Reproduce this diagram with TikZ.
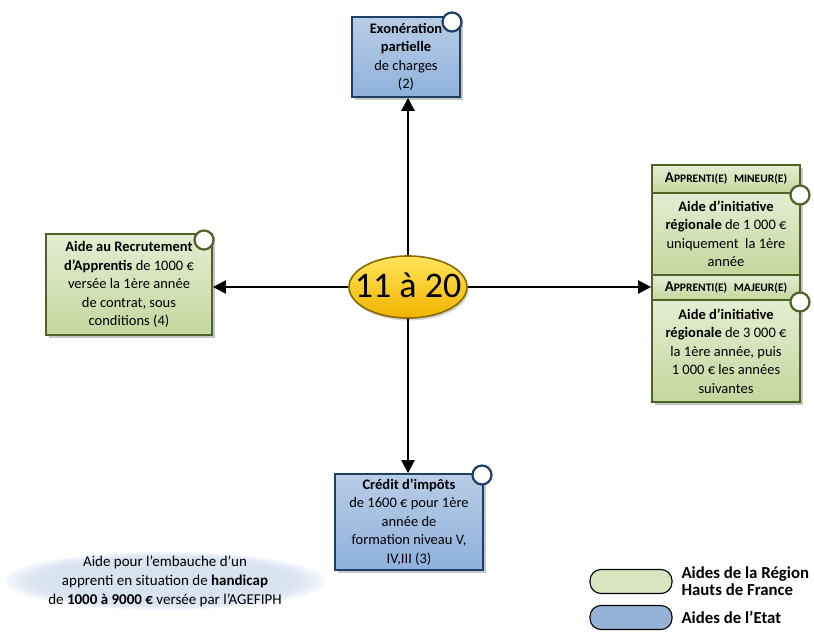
\documentclass[tikz,border=0pt]{standalone}
\usepackage{fontspec}
\setmainfont{Carlito}
\usetikzlibrary{shapes.geometric,shadows,arrows.meta}
\definecolor{gfillT}{HTML}{E4EDD2}
\definecolor{gfillB}{HTML}{C4D79E}
\definecolor{gline}{HTML}{4F6228}
\definecolor{bfillT}{HTML}{B9CDE6}
\definecolor{bfillB}{HTML}{8EB1DC}
\definecolor{bline}{HTML}{1F3F66}
\definecolor{yT}{HTML}{FFE45A}
\definecolor{yB}{HTML}{F2B400}
\definecolor{yline}{HTML}{8A6A00}
\definecolor{haze}{HTML}{D3E0EF}
\definecolor{legG}{HTML}{D7E4BD}
\definecolor{legB}{HTML}{95B3D7}
\newcommand{\fsc}[2]{{\fontsize{15}{15}\selectfont #1}{\fontsize{11.5}{11.5}\selectfont #2}}
\tikzset{
  boxbase/.style={draw, line width=1.8pt, align=center, inner sep=2pt,
    font=\fontsize{14.5}{18.5}\selectfont,
    drop shadow={shadow xshift=2.5pt, shadow yshift=-3pt, opacity=0.45}},
  greenbox/.style={boxbase, draw=gline, top color=gfillT, bottom color=gfillB},
  bluebox/.style={boxbase, draw=bline, top color=bfillT, bottom color=bfillB},
  knob/.style={circle, draw, fill=white, line width=2.2pt, minimum size=19pt, inner sep=0pt},
  arr/.style={line width=2.4pt, -{Triangle[length=13pt,width=13pt]}},
  legbox/.style={draw=black, line width=1.1pt, rounded corners=11pt, minimum width=82pt, minimum height=24pt},
  legtext/.style={anchor=west, align=left, font=\fontsize{16.8}{16.5}\selectfont\bfseries}
}
\begin{document}
\begin{tikzpicture}[x=1pt,y=-1pt]
\useasboundingbox (0,0) rectangle (814,639);
% haze ellipse
\foreach \s in {1.0,0.97,0.94,0.91,0.88,0.85,0.82,0.79} {
  \fill[haze, opacity=0.22] (165,581) ellipse ({160*\s} and {29*\s});
}
\node[align=center, font=\fontsize{15}{19}\selectfont] (hand) at (165,581)
  {Aide pour l’embauche d’un\\apprenti en situation de \textbf{handicap}\\de \textbf{1000 à 9000 €} versée par l’AGEFIPH};
% boxes
\node[bluebox, minimum width=108pt, minimum height=80pt] (top) at (406,57)
  {\textbf{Exonération}\\\textbf{partielle}\\de charges\\(2)};
\node[greenbox, minimum width=166pt, minimum height=101pt] (left) at (129,284.5)
  {\textbf{Aide au Recrutement}\\\textbf{d’Apprentis} de 1000 €\\versée la 1ère année\\de contrat, sous\\conditions (4)};
\node[greenbox, minimum width=148pt, minimum height=28pt, inner sep=0pt] (h1) at (726,179)
  {\textbf{\fsc{A}{PPRENTI(E)}\ \ \fsc{}{MINEUR(E)}}};
\node[greenbox, minimum width=148pt, minimum height=82pt] (b1) at (726,234)
  {\textbf{Aide d’initiative}\\\textbf{régionale} de 1 000 €\\uniquement\ \ la 1ère\\année};
\node[greenbox, minimum width=148pt, minimum height=25pt, inner sep=0pt] (h2) at (726,287.5)
  {\textbf{\fsc{A}{PPRENTI(E)}\ \ \fsc{}{MAJEUR(E)}}};
\node[greenbox, minimum width=148pt, minimum height=102pt] (b2) at (726,351)
  {\textbf{Aide d’initiative}\\\textbf{régionale} de 3 000 €\\la 1ère année, puis\\1 000 € les années\\suivantes};
\node[bluebox, minimum width=148pt, minimum height=96pt] (bot) at (409,522)
  {\textbf{Crédit d’impôts}\\de 1600 € pour 1ère\\année de\\formation niveau V,\\IV,III (3)};
% knobs
\node[knob, draw=bline] (k1) at (452,22) {};
\node[knob, draw=gline] (k2) at (204,240) {};
\node[knob, draw=gline] (k3) at (800,195) {};
\node[knob, draw=gline] (k4) at (800,302) {};
\node[knob, draw=bline] (k5) at (482,475) {};
% center
\node[ellipse, draw=yline, line width=1.6pt, top color=yT, bottom color=yB,
  minimum width=118pt, minimum height=62pt, inner sep=0pt,
  drop shadow={shadow xshift=1.5pt, shadow yshift=-2.5pt, opacity=0.35},
  font=\fontsize{36}{36}\selectfont] (c) at (408,287) {\makebox[0pt]{\raisebox{-11pt}[0pt][0pt]{11 à 20}}};
% arrows
\draw[arr] (c.north) -- (c.north |- top.south);
\draw[arr] (c.south) -- (c.south |- bot.north);
\draw[arr] (c.west) -- (c.west -| left.east);
\draw[arr] (c.east) -- (c.east -| b1.west);
% legend
\node[legbox, fill=legG] (lg) at (631,581.5) {};
\node[legbox, fill=legB] (lb) at (631,617.5) {};
\node[legtext] (lgt) at (678,581) {Aides de la Région\\Hauts de France};
\node[legtext] (lbt) at (678,617) {Aides de l’Etat};
\end{tikzpicture}
\end{document}
